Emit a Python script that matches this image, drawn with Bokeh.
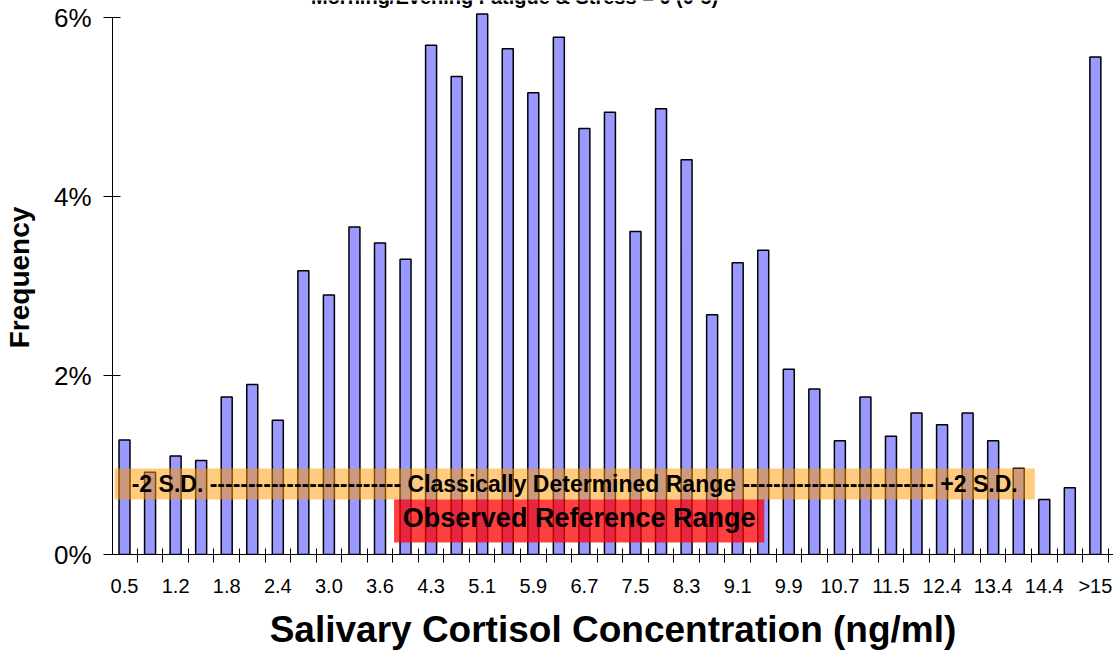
from bokeh.plotting import figure
from bokeh.models import FixedTicker, PrintfTickFormatter, Label, BoxAnnotation
from bokeh.embed import file_html
from bokeh.resources import INLINE

# ---- data ----
tick_labels = ["0.5", "1.2", "1.8", "2.4", "3.0", "3.6", "4.3", "5.1", "5.9", "6.7",
               "7.5", "8.3", "9.1", "9.9", "10.7", "11.5", "12.4", "13.4", "14.4", ">15"]
bin_index = list(range(1, 40))
frequency_pct = [1.28, 0.92, 1.10, 1.05, 1.76, 1.90, 1.50, 3.17, 2.90, 3.66,
                 3.48, 3.30, 5.69, 5.34, 6.04, 5.65, 5.16, 5.78, 4.76, 4.94,
                 3.61, 4.98, 4.41, 2.68, 3.26, 3.40, 2.07, 1.85, 1.27, 1.76,
                 1.32, 1.58, 1.45, 1.58, 1.27, 0.965, 0.615, 0.746, 5.56]
y_ticks = [0, 2, 4, 6]

# range annotations (bin units / percent)
classic_range = dict(left=0.61, right=36.63, bottom=0.615, top=0.961)
observed_range = dict(left=11.55, right=26.04, bottom=0.134, top=0.615)

title_text = "Morning/Evening Fatigue & Stress = 0 (0-5)"
FONT = "Liberation Sans"

p = figure(width=1113, height=652, x_range=(0.53, 39.71), y_range=(0, 6.19),
           output_backend="svg", toolbar_location=None,
           min_border_left=110, min_border_right=0, min_border_top=0, min_border_bottom=98)
p.margin = (0, 0, 0, 0)
p.outline_line_color = None
p.xgrid.visible = False
p.ygrid.visible = False
p.background_fill_color = "white"
p.border_fill_color = "white"

p.vbar(x=bin_index, top=frequency_pct, width=0.43, bottom=0,
       fill_color="#9999FF", line_color="black", line_width=1.5)

p.add_layout(BoxAnnotation(**classic_range, fill_color="#FF9900", fill_alpha=0.5, line_color=None))
p.add_layout(BoxAnnotation(**observed_range, fill_color="#FF0000", fill_alpha=0.75, line_color=None))

dashes = "-" * 25
p.add_layout(Label(x=(classic_range["left"] + classic_range["right"]) / 2,
                   y=(classic_range["bottom"] + classic_range["top"]) / 2,
                   text=f"-2 S.D. {dashes} Classically Determined Range {dashes} +2 S.D.",
                   text_align="center", text_baseline="middle",
                   text_font=FONT, text_font_size="23px", text_font_style="bold",
                   text_color="black"))
p.add_layout(Label(x=(observed_range["left"] + observed_range["right"]) / 2,
                   y=(observed_range["bottom"] + observed_range["top"]) / 2 + 0.03,
                   text="Observed Reference Range",
                   text_align="center", text_baseline="middle",
                   text_font=FONT, text_font_size="27px", text_font_style="bold",
                   text_color="black"))
p.add_layout(Label(x=16.27, y=6.234, text=title_text,
                   text_align="center", text_baseline="alphabetic",
                   text_font=FONT, text_font_size="20px", text_font_style="bold",
                   text_color="black"))

# x axis
xt = FixedTicker(ticks=bin_index[::2], minor_ticks=[i + 0.5 for i in range(0, 40)])
p.xaxis.ticker = xt
p.xaxis.major_label_overrides = {b: lab for b, lab in zip(bin_index[::2], tick_labels)}
p.xaxis.major_tick_in = 0
p.xaxis.major_tick_out = 0
p.xaxis.minor_tick_in = 6
p.xaxis.minor_tick_out = 8
p.xaxis.minor_tick_line_color = "black"
p.xaxis.axis_line_color = "black"
p.xaxis.major_label_standoff = 12
p.xaxis.major_label_text_font = FONT
p.xaxis.major_label_text_font_size = "20px"
p.xaxis.major_label_text_color = "black"
p.xaxis.axis_label = "Salivary Cortisol Concentration (ng/ml)"
p.xaxis.axis_label_text_font = FONT
p.xaxis.axis_label_text_font_size = "37px"
p.xaxis.axis_label_text_font_style = "bold"
p.xaxis.axis_label_text_color = "black"
p.xaxis.axis_label_standoff = 9

# y axis
p.yaxis.ticker = FixedTicker(ticks=y_ticks)
p.yaxis.formatter = PrintfTickFormatter(format="%d%%")
p.yaxis.bounds = (0, 6)
p.yaxis.major_tick_in = 8
p.yaxis.major_tick_out = 9
p.yaxis.minor_tick_line_color = None
p.yaxis.axis_line_color = "black"
p.yaxis.major_label_standoff = 12
p.yaxis.major_label_text_font = FONT
p.yaxis.major_label_text_font_size = "26px"
p.yaxis.major_label_text_color = "black"
p.yaxis.axis_label = "Frequency"
p.yaxis.axis_label_text_font = FONT
p.yaxis.axis_label_text_font_size = "28px"
p.yaxis.axis_label_text_font_style = "bold"
p.yaxis.axis_label_text_color = "black"
p.yaxis.axis_label_standoff = 16

open("out.html", "w").write(file_html(p, INLINE))
